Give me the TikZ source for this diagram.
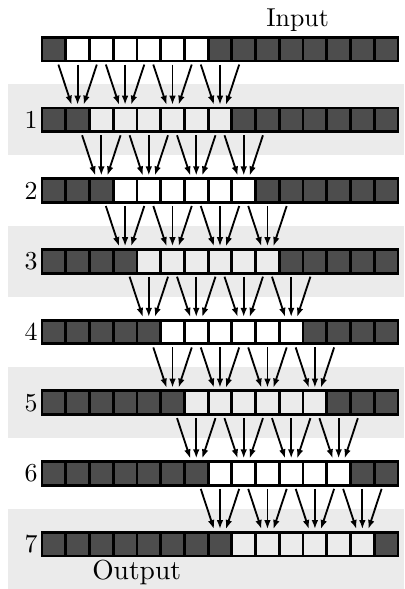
\documentclass[tikz,border=0pt]{standalone}
\usepackage{fontspec}
\usetikzlibrary{arrows.meta}
\definecolor{darkcell}{HTML}{4D4D4D}
\definecolor{lightcell}{HTML}{EBEBEB}
\definecolor{bandgray}{HTML}{EBEBEB}
\newcommand{\bigtxt}[2][3.1]{\scalebox{#1}{\fontsize{10}{12}\selectfont #2}}
\begin{document}
\begin{tikzpicture}[
  cellbox/.style={rectangle, draw=black, line width=3.4pt, minimum width=1cm, minimum height=1cm, inner sep=0pt, outer sep=0pt},
  arr/.style={line width=2.2pt, -{Latex[length=11pt,width=8pt]}},
  lab/.style={inner sep=0pt},
  band/.style={fill=bandgray, draw=none}
]
\useasboundingbox (0,0) rectangle (17.025,-24.82);
% bands behind odd rows
\foreach \r in {1,3,5}{
  \pgfmathsetmacro\btop{-(0.57+2.98*\r)}
  \fill[band] (0.34,\btop) rectangle (17.025,\btop-3);
}
\fill[band] (0.34,{-(0.57+2.98*7)}) rectangle (17.025,-24.82);
% rows of cells
\foreach \r in {0,...,7}{
  \pgfmathsetmacro\ytop{-(1.57+2.98*\r)}
  \pgfmathtruncatemacro\isodd{mod(\r,2)}
  \foreach \i in {0,...,14}{
    \pgfmathtruncatemacro\isdark{or(\i<=\r,\i>=\r+7)}
    \ifnum\isdark=1 \def\fc{darkcell}\else\ifnum\isodd=1 \def\fc{lightcell}\else\def\fc{white}\fi\fi
    \node[cellbox, fill=\fc, anchor=north west] (c-\r-\i) at (1.77+\i,\ytop) {};
  }
}
% row labels
\foreach \r in {1,...,7}{
  \node[lab] (n\r) at (1.31,{-(2.07+2.98*\r)}) {\bigtxt{\r}};
}
\node[lab, anchor=base] (input) at (12.54,-1.125) {\bigtxt{Input}};
\node[lab, anchor=base] (output) at (5.76,-24.44) {\bigtxt[3.3]{Output}};
% arrows
\foreach \r in {0,...,6}{
  \pgfmathtruncatemacro\rn{\r+1}
  \foreach \k in {1,3,5,7}{
    \pgfmathtruncatemacro\c{\r+\k}
    \pgfmathtruncatemacro\cl{\c-1}
    \pgfmathtruncatemacro\cr{\c+1}
    \draw[arr] ([xshift=0.19cm,yshift=-0.15cm]c-\r-\cl.south) -- ([xshift=-0.25cm,yshift=0.13cm]c-\rn-\c.north);
    \draw[arr] ([yshift=-0.15cm]c-\r-\c.south) -- ([yshift=0.13cm]c-\rn-\c.north);
    \draw[arr] ([xshift=-0.19cm,yshift=-0.15cm]c-\r-\cr.south) -- ([xshift=0.25cm,yshift=0.13cm]c-\rn-\c.north);
  }
}
\end{tikzpicture}
\end{document}
